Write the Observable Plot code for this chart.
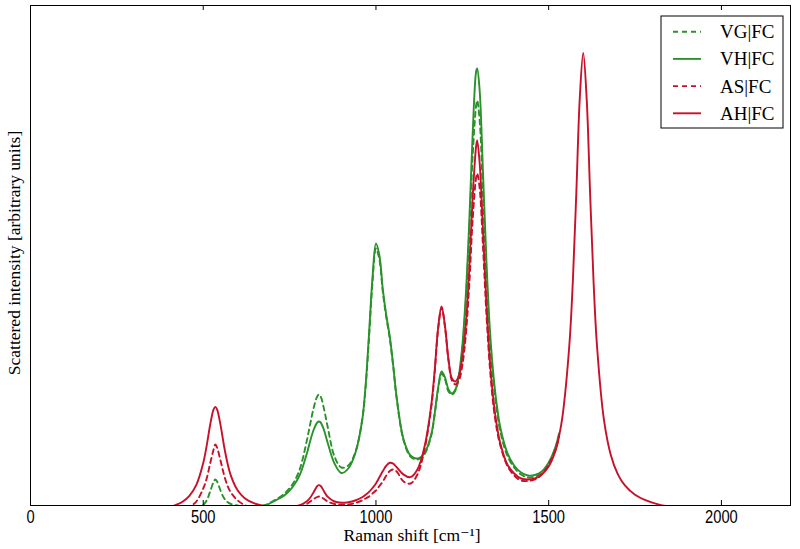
<!DOCTYPE html>
<html><head><meta charset="utf-8">
<script src="https://cdn.jsdelivr.net/npm/d3@7"></script>
<script src="https://cdn.jsdelivr.net/npm/@observablehq/plot@0.6"></script>
<style>
body{margin:0;background:#fff;}
#chart{width:800px;height:549px;}
</style></head><body><div id="chart"></div>
<script>
// Raman shift grid (cm^-1)
const shift = [400,420,440,460,480,500,510,520,530,535,540,550,560,570,580,600,620,650,680,700,
  720,740,760,780,800,810,820,830,835,840,850,860,880,900,920,940,960,970,980,990,
  1000,1010,1020,1030,1040,1050,1060,1080,1100,1120,1140,1160,1170,1180,1190,1200,1210,1220,1230,1240,
  1250,1260,1270,1280,1290,1293,1300,1310,1320,1330,1340,1350,1360,1380,1400,1420,1440,1460,1480,1500,
  1520,1530,1540,1560,1570,1580,1590,1600,1610,1620,1630,1640,1660,1680,1700,1720,1750,1780,1820,1860,1900];

// Scattered intensity (arbitrary units)
const vgFC = [-6,-6,-5.5,-4.5,-3,0.5,5,14,23.5,26,24,15,7.5,3.5,1.5,0,-1,-1,0.5,4,
  8,13.5,22,37,65,82,98,109,111,109,96,79,49,38,40,53,85,118,168,223,
  257,246,213,188,167,139,107,65,49,46,51,70,91,116,132,126,114,111,115,128,
  156,203,272,350,400,405,386,310,228,165,124,95,74,50,38,31,28,29,33,42,
  58,71];
const vhFC = [-4,-4,-4,-4,-4,-3.5,-3,-2.5,-2,-2,-2,-2.5,-3,-3,-3,-2.5,-2,-1,0,3.5,
  7,11.5,19,31,52,65,76,83,84,83,75,63,42,32.5,37,52,85,120,172,228,
  262,250,216,190,169,140,108,66,50,47,52,71,92,118,134,128,116,112,116,130,
  160,210,283,372,434,437,416,332,243,175,131,100,78,53,40,33,30,30.5,34,43,
  59,72];
const asFC = [-8,-6.5,-4.5,-1.5,4,17,27,42,56,61,58,45,31,20,13,5,0.5,-3,-4.5,-5,
  -5,-4.5,-3.5,-1.5,1.5,4,6.5,8.5,9,8.5,6.5,4,1.5,0.8,1,2.5,5,7,9,12,
  15,19.5,24,30,34.5,36,34,24,22,31,55,98,133,176,198,178,145,125,121,125,
  140,170,220,286,328,332,318,258,190,137,100,76,60,40,30,25,24.5,26,31,41,
  56,69];
const ahFC = [-2,0.4,3.8,9.7,20.6,42.5,59.9,80.5,96.2,98.6,96.2,80.6,60,42.7,29.9,14.9,7.3,1.8,-0.7,-1.5,
  -1.9,-1.8,-1.2,0.3,4.2,8,13.6,19.4,20.4,19.5,14.1,8.8,4,2.8,3.3,5,8.2,10.7,13.6,17.5,
  22.1,28.2,34.4,39.9,42.7,41.9,38.4,30.9,28.3,36,58,100,135,178,199,179,146,127,124,130,
  148,180,236,308.6,359.3,365,343.3,274,200.3,144.4,106,80,62.2,41.2,32,27,26,27,31,39,
  55.1,69.1,89.1,161.3,225,312.6,407.1,452.6,406.6,311.4,223.3,159,85.6,50.3,31.4,20.3,10.7,5.3,0.9,-1.6,-3.3];

const seriesNames = ["VG|FC","VH|FC","AS|FC","AH|FC"];
const seriesValues = [vgFC, vhFC, asFC, ahFC];
const seriesColors = ["#2a922a","#2a922a","#c8102a","#c8102a"];
const seriesDashed = [true,false,true,false];
const xTicks = [0,500,1000,1500,2000];

const rows = [];
seriesValues.forEach((vals, s) => vals.forEach((v, i) =>
  rows.push({series: seriesNames[s], shift: shift[i], intensity: v})));

const marks = [];
seriesNames.forEach((name, s) => {
  const opts = {x: "shift", y: "intensity", stroke: seriesColors[s], strokeWidth: 1.9,
    curve: "catmull-rom", clip: true};
  if (seriesDashed[s]) opts.strokeDasharray = "5,4";
  marks.push(Plot.line(rows.filter(r => r.series === name), opts));
});
marks.push(Plot.tickX(xTicks, {x: d => d, insetTop: 495, stroke: "black", strokeWidth: 1}));
marks.push(Plot.tickX(xTicks, {x: d => d, insetBottom: 495, stroke: "black", strokeWidth: 1}));
marks.push(Plot.frame({stroke: "black", strokeWidth: 1}));
marks.push(Plot.axisX({ticks: xTicks, tickSize: 0, tickPadding: 5, tickFormat: "d", label: null}));

const svg = Plot.plot({
  width: 800, height: 549,
  marginLeft: 30, marginRight: 10, marginTop: 5, marginBottom: 44,
  x: {domain: [0, 2200]},
  y: {domain: [0, 500], axis: null},
  style: {fontFamily: "'Liberation Sans Narrow','Liberation Sans',sans-serif", fontSize: "17.5px", background: "white", color: "black"},
  marks
});

const g = d3.select(svg);
// narrow the tick digits like the reference
g.selectAll('g[aria-label="x-axis tick label"] text').each(function() {
  const t = d3.select(this);
  const tr = t.attr("transform") || "";
  t.attr("transform", tr + " scale(0.84,1)");
});

const serif = "'Liberation Serif','DejaVu Serif',serif";
g.append("text").attr("x", 412).attr("y", 541).attr("text-anchor", "middle")
  .attr("font-family", serif).attr("font-size", 17.5).attr("fill", "black")
  .text("Raman shift [cm⁻¹]");
g.append("text").attr("transform", "translate(20,253) rotate(-90)").attr("text-anchor", "middle")
  .attr("font-family", serif).attr("font-size", 17.5).attr("fill", "black")
  .text("Scattered intensity [arbitrary units]");

const lg = g.append("g");
lg.append("rect").attr("x", 661).attr("y", 16).attr("width", 122).attr("height", 112)
  .attr("fill", "white").attr("stroke", "black").attr("stroke-width", 1);
seriesNames.forEach((name, s) => {
  const cy = 31.7 + s * 27.2;
  lg.append("line").attr("x1", 673).attr("x2", 701).attr("y1", cy).attr("y2", cy)
    .attr("stroke", seriesColors[s]).attr("stroke-width", 1.9)
    .attr("stroke-dasharray", seriesDashed[s] ? "5,4" : null);
  lg.append("text").attr("x", 720).attr("y", cy + 6.5).attr("text-anchor", "start")
    .attr("font-family", serif).attr("font-size", 19).attr("fill", "black").text(name);
});

document.getElementById("chart").appendChild(svg);
</script></body></html>
